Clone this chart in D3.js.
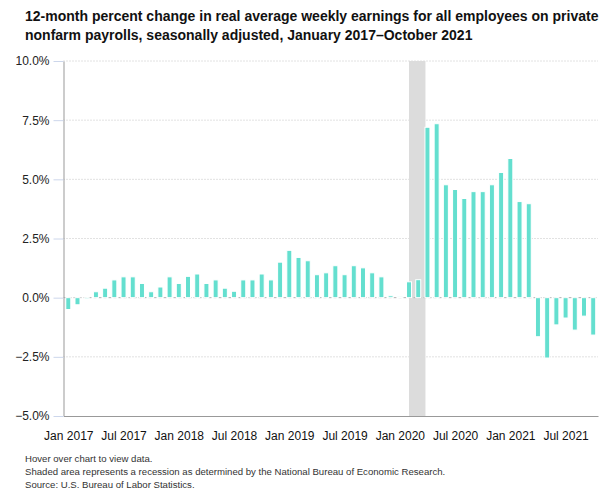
<!DOCTYPE html>
<html>
<head>
<meta charset="utf-8">
<script src="https://cdn.jsdelivr.net/npm/d3@7"></script>
<style>
  body { margin: 0; background: #fff; }
  text { font-family: "Liberation Sans", Arial, sans-serif; }
</style>
</head>
<body>
<script>
// 12-month % change, Jan 2017 - Oct 2021
var values = [
  -0.5, -0.3, -0.05, 0.25, 0.4, 0.75, 0.88, 0.88, 0.6, 0.25, 0.45, 0.88,
  0.6, 0.9, 1.0, 0.6, 0.75, 0.4, 0.27, 0.75, 0.75, 1.0, 0.75, 1.5,
  2.0, 1.7, 1.56, 0.97, 1.05, 1.35, 0.97, 1.35, 1.26, 1.05, 0.88, 0.08,
  0.04, 0.67, 0.76, 7.2, 7.35, 4.77, 4.57, 4.19, 4.48, 4.48, 4.77, 5.29,
  5.88, 4.06, 3.97, -1.65, -2.55, -1.15, -0.86, -1.37, -0.78, -1.58
]
var fmtMonth = d3.timeFormat("%b %Y")
var months = d3.timeMonth.range(new Date(2017, 0, 1), new Date(2021, 10, 1)).map(fmtMonth)
var xTickLabels = ["Jan 2017", "Jul 2017", "Jan 2018", "Jul 2018", "Jan 2019",
  "Jul 2019", "Jan 2020", "Jul 2020", "Jan 2021", "Jul 2021"]
var yTicks = [-5, -2.5, 0, 2.5, 5, 7.5, 10]
var recession = ["Feb 2020", "Apr 2020"]

var titleLines = [
  "12-month percent change in real average weekly earnings for all employees on private",
  "nonfarm payrolls, seasonally adjusted, January 2017\u2013October 2021"
]
var notes = [
  "Hover over chart to view data.",
  "Shaded area represents a recession as determined by the National Bureau of Economic Research.",
  "Source: U.S. Bureau of Labor Statistics."
]

var data = months.map((m, i) => ({ month: m, value: values[i] }))

var svg = d3.select("body").append("svg")
  .attr("width", 606)
  .attr("height", 494)

// plot box (note: "top" is taken by window.top)
var plotL = 63.5, plotR = 598, plotT = 61, plotB = 416

var x = d3.scalePoint().domain(months).range([plotL, plotR]).padding(0.52)
var y = d3.scaleLinear().domain([-5, 10]).range([plotB, plotT])
var bw = 5

svg.selectAll(".title").data(titleLines).enter().append("text")
  .attr("x", 25)
  .attr("y", (d, i) => 21 + i * 19)
  .attr("font-size", 14)
  .attr("font-weight", "bold")
  .attr("fill", "#111")
  .text(d => d)

// gridlines
svg.selectAll(".grid").data(yTicks.filter(d => d != 0 && d != -5)).enter().append("line")
  .attr("x1", plotL).attr("x2", plotR)
  .attr("y1", d => y(d)).attr("y2", d => y(d))
  .attr("stroke", "#c4c4c4")
  .attr("stroke-dasharray", "1,2")

// recession shading
svg.append("rect")
  .attr("x", x(recession[0]))
  .attr("width", x(recession[1]) - x(recession[0]) - 2)
  .attr("y", plotT)
  .attr("height", plotB - plotT)
  .attr("fill", "#dcdcdc")

// zero line
svg.append("line")
  .attr("x1", plotL).attr("x2", plotR)
  .attr("y1", y(0)).attr("y2", y(0))
  .attr("stroke", "#b0b0b0")
  .attr("stroke-dasharray", "3,2")

svg.selectAll(".bar").data(data).enter().append("rect")
  .attr("x", d => x(d.month) - bw / 2)
  .attr("width", bw)
  .attr("y", d => y(Math.max(0, d.value)))
  .attr("height", d => Math.abs(y(d.value) - y(0)))
  .attr("fill", "#64dfcf")
  .attr("stroke", "#fff")
  .attr("stroke-width", 1)

var yAxis = svg.append("g")
  .attr("transform", "translate(" + plotL + ",0)")
  .call(d3.axisLeft(y).tickValues(yTicks).tickSize(10).tickSizeOuter(0).tickPadding(4)
    .tickFormat(d => d3.format(".1f")(d) + "%"))
yAxis.select(".domain").attr("stroke", "#999")
yAxis.selectAll(".tick line").attr("stroke", "#ccd6eb")
yAxis.selectAll("text").attr("font-size", 12).attr("fill", "#222")
  .attr("font-family", "Liberation Sans, Arial, sans-serif")

var xAxis = svg.append("g")
  .attr("transform", "translate(0," + plotB + ")")
  .call(d3.axisBottom(x).tickValues(xTickLabels).tickSize(0).tickPadding(15))
xAxis.select(".domain").attr("stroke", "#999")
xAxis.selectAll("text").attr("font-size", 12).attr("fill", "#111")
  .attr("font-family", "Liberation Sans, Arial, sans-serif")

svg.selectAll(".note").data(notes).enter().append("text")
  .attr("x", 25)
  .attr("y", (d, i) => 462 + i * 13)
  .attr("font-size", 9.6)
  .attr("fill", "#333")
  .text(d => d)
</script>
</body>
</html>
